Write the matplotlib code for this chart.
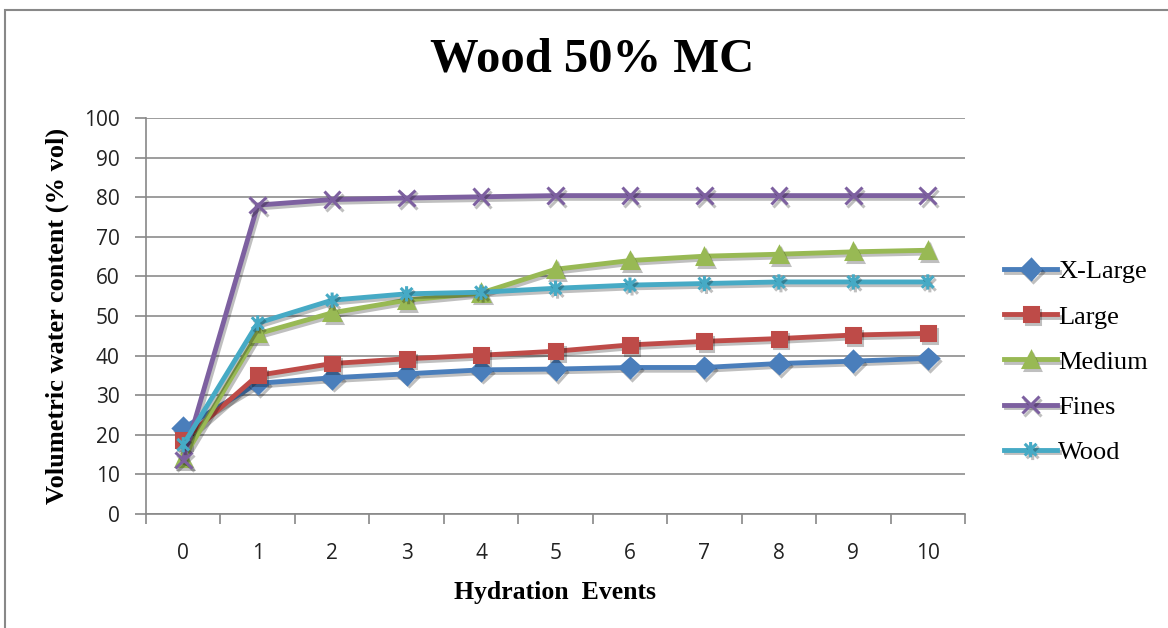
import numpy as np
import matplotlib.pyplot as plt
import matplotlib.patheffects as pe
from matplotlib.path import Path
from matplotlib.patches import Rectangle

# Hydration events on the x axis
events = list(range(11))

# Volumetric water content (% vol) for each particle size class
x_large = [21.7, 33.0, 34.4, 35.4, 36.4, 36.6, 37.0, 37.0, 38.0, 38.6, 39.3]
large = [18.6, 35.0, 38.0, 39.2, 40.1, 41.1, 42.7, 43.6, 44.3, 45.2, 45.6]
medium = [14.0, 45.5, 50.8, 54.0, 55.8, 61.8, 64.0, 65.1, 65.6, 66.2, 66.6]
fines = [13.6, 78.0, 79.4, 79.8, 80.1, 80.4, 80.4, 80.4, 80.4, 80.4, 80.4]
wood = [17.5, 48.2, 54.0, 55.6, 56.0, 57.0, 57.8, 58.2, 58.6, 58.6, 58.6]

series_names = ['X-Large', 'Large', 'Medium', 'Fines', 'Wood']
series_colors = ['#4A7EBB', '#BE4B48', '#98B954', '#7D60A0', '#46AAC5']

# Asterisk marker: an "x" with a vertical bar through it
ast = Path([(-1, -1), (1, 1), (-1, 1), (1, -1), (0, -1.3), (0, 1.3)],
           [Path.MOVETO, Path.LINETO, Path.MOVETO, Path.LINETO, Path.MOVETO, Path.LINETO])
series_markers = ['D', 's', '^', 'x', ast]
marker_sizes = [10, 10, 11, 12, 11]

fig = plt.figure(figsize=(11.68, 6.28), dpi=100)
# outer chart border
fig.patches.append(Rectangle((5 / 1168, -0.2), 1.2, 1.2 - 10 / 628, transform=fig.transFigure,
                             fill=False, edgecolor='#888888', linewidth=1.5))

ax = fig.add_axes([146 / 1168, 1 - 514 / 628, (965 - 146) / 1168, (514 - 118) / 628])

shadow = [pe.SimpleLineShadow(offset=(1.5, -2), alpha=0.25, rho=0.5), pe.Normal()]
data = [x_large, large, medium, fines, wood]
for vals, name, col, mk, ms in zip(data, series_names, series_colors, series_markers, marker_sizes):
    ax.plot(events, vals, color=col, linewidth=3.5, marker=mk, markersize=ms,
            markerfacecolor=col, markeredgecolor=col, markeredgewidth=2.2,
            label=name, path_effects=shadow, zorder=3)

ax.set_xlim(-0.5, 10.5)
ax.set_ylim(0, 100)
ax.set_yticks(np.arange(0, 101, 10))
ax.set_xticks(events)
ax.set_xticks(np.arange(-0.5, 10.6, 1), minor=True)
ax.tick_params(axis='x', which='major', length=0, pad=21, labelsize=15)
ax.tick_params(axis='x', which='minor', length=7, color='#888888', width=1.2, direction='out')
ax.tick_params(axis='y', length=8, color='#888888', width=1.2, labelsize=15, pad=11)
for lbl in ax.get_xticklabels() + ax.get_yticklabels():
    lbl.set_fontfamily('Open Sans')
    lbl.set_color('#222222')

ax.grid(axis='y', color='#8c8c8c', linewidth=1.2)
ax.set_axisbelow(True)
for s in ['top', 'right']:
    ax.spines[s].set_visible(False)
for s in ['left', 'bottom']:
    ax.spines[s].set_color('#888888')
    ax.spines[s].set_linewidth(1.2)

ax.set_xlabel('Hydration  Events', fontfamily='Liberation Serif', fontweight='bold',
              fontsize=18.5, labelpad=12)
ax.set_ylabel('Volumetric water content (% vol)', fontfamily='Liberation Serif',
              fontweight='bold', fontsize=19)
ax.yaxis.set_label_coords(-(146 - 69) / 819, 0.5)
fig.text(592 / 1168, 1 - 59 / 628, 'Wood 50% MC', ha='center', va='center',
         fontfamily='Liberation Serif', fontweight='bold', fontsize=35)

ax.legend(loc='center left', bbox_to_anchor=(1.035, 0.384), frameon=False,
          prop={'family': 'Liberation Serif', 'size': 19}, handlelength=2.0,
          handletextpad=0.05, labelspacing=0.82, borderaxespad=0)

fig.savefig('out.png', dpi=100)
